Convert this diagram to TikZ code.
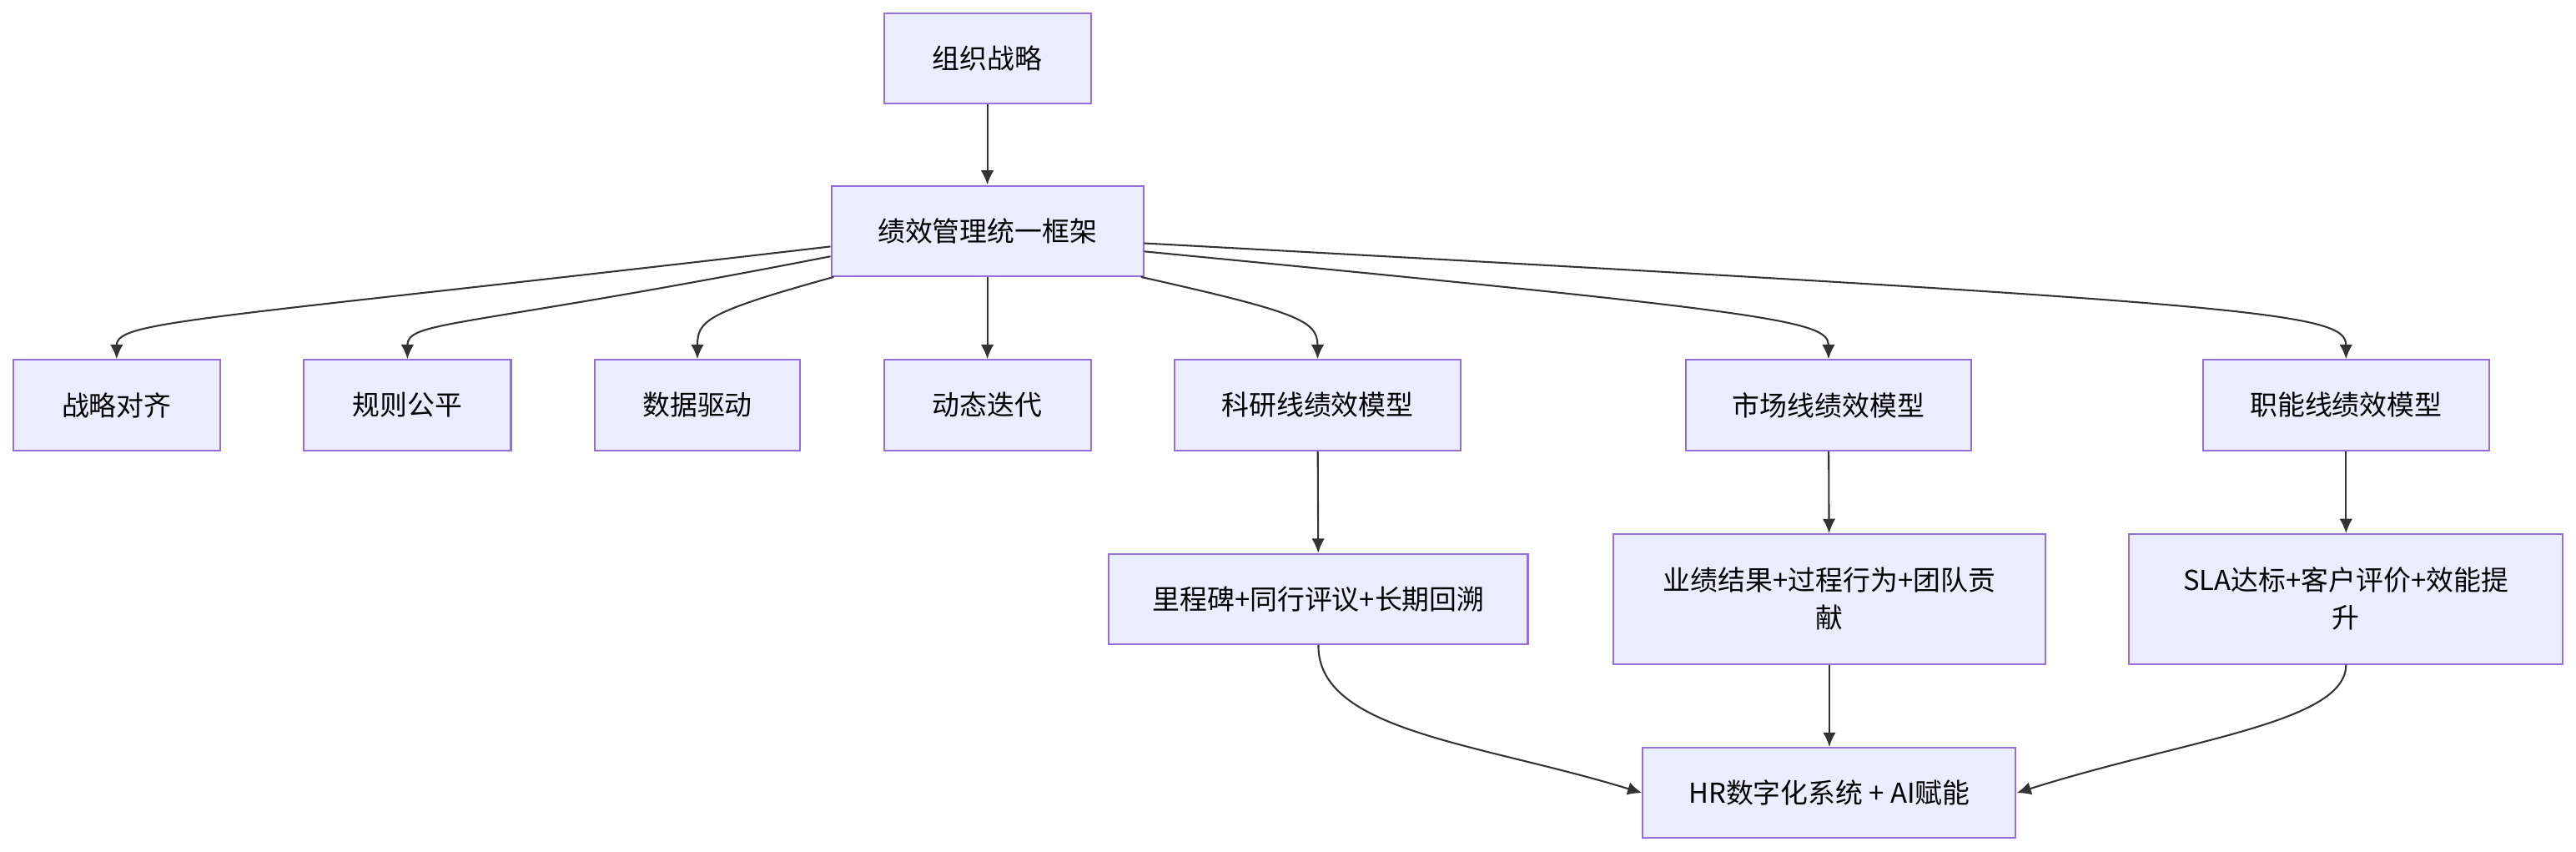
\documentclass[tikz,border=0pt]{standalone}
\usepackage{fontspec}
\setmainfont{Noto Sans CJK SC}
\usetikzlibrary{arrows.meta}
\definecolor{boxfill}{HTML}{ECECFF}
\definecolor{boxline}{HTML}{9370DB}
\definecolor{edge}{HTML}{333333}
\tikzset{
    box/.style = {draw=boxline, fill=boxfill, line width=0.6pt, align=center,
                  font=\fontsize{9.5}{13}\selectfont, inner sep=0pt},
    arr/.style = {-{Latex[length=5pt,width=4.5pt]}, draw=edge, line width=0.6pt},
}
\begin{document}
\begin{tikzpicture}[x=0.02cm, y=-0.02cm]
    \useasboundingbox (0,0) rectangle (1568,518);
    % --- top
    \node[box, minimum width=2.52cm, minimum height=1.1cm] (strategy) at (601,35.5) {组织战略};
    \node[box, minimum width=3.8cm, minimum height=1.1cm] (frame) at (601,140.5) {绩效管理统一框架};
    % --- principles and models
    \node[box, minimum width=2.52cm, minimum height=1.1cm] (align) at (71,246.5) {战略对齐};
    \node[box, minimum width=2.52cm, minimum height=1.1cm] (fair) at (248,246.5) {规则公平};
    \node[box, minimum width=2.5cm, minimum height=1.1cm] (data) at (424.5,246.5) {数据驱动};
    \node[box, minimum width=2.52cm, minimum height=1.1cm] (iter) at (601,246.5) {动态迭代};
    \node[box, minimum width=3.48cm, minimum height=1.1cm] (rd) at (802,246.5) {科研线绩效模型};
    \node[box, minimum width=3.48cm, minimum height=1.1cm] (mkt) at (1113,246.5) {市场线绩效模型};
    \node[box, minimum width=3.48cm, minimum height=1.1cm] (func) at (1428,246.5) {职能线绩效模型};
    % --- indicators
    \node[box, minimum width=5.1cm, minimum height=1.1cm] (rdkpi) at (802.5,364.5) {里程碑+同行评议+长期回溯};
    \node[box, minimum width=5.26cm, minimum height=1.58cm] (mktkpi) at (1113.5,364.5) {业绩结果+过程行为+团队贡\\献};
    \node[box, minimum width=5.28cm, minimum height=1.58cm] (funckpi) at (1428,364.5) {SLA达标+客户评价+效能提\\升};
    \node[box, minimum width=4.54cm, minimum height=1.1cm] (hr) at (1113.5,482.5) {HR数字化系统 + AI赋能};
    % --- edges
    \draw[arr] (strategy) -- (frame);
    \draw[arr] (frame.west |- 0,150) .. controls (120,195) and (71,195) .. (align.north);
    \draw[arr] (frame.west |- 0,156) .. controls (280,200) and (248,195) .. (fair.north);
    \draw[arr] (frame.south west) ++(2,0) .. controls (430,190) and (424.5,195) .. (data.north);
    \draw[arr] (frame) -- (iter);
    \draw[arr] (frame.south east) ++(-2,0) .. controls (790,190) and (802,195) .. (rd.north);
    \draw[arr] (frame.east |- 0,153) .. controls (1080,190) and (1113,195) .. (mkt.north);
    \draw[arr] (frame.east |- 0,148) .. controls (1380,185) and (1428,190) .. (func.north);
    \draw[arr] (rd) -- (rdkpi);
    \draw[arr] (mkt) -- (mktkpi);
    \draw[arr] (func) -- (funckpi);
    \draw[arr] (rdkpi.south) .. controls (802,445) and (900,452) .. (hr.west);
    \draw[arr] (mktkpi) -- (hr);
    \draw[arr] (funckpi.south) .. controls (1428,440) and (1330,450) .. (hr.east);
\end{tikzpicture}
\end{document}
